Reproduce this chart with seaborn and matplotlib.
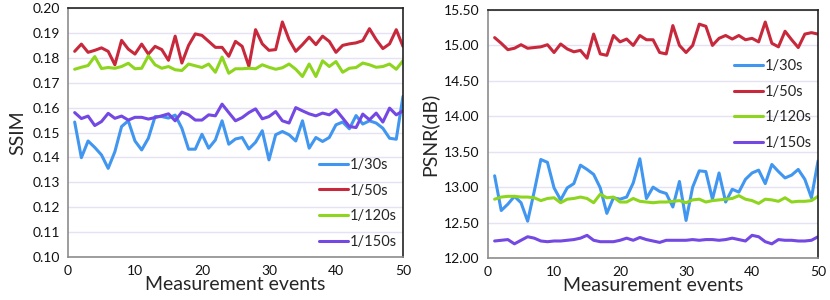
import numpy as np
import pandas as pd
import matplotlib
matplotlib.use("Agg")
import matplotlib.pyplot as plt
import seaborn as sns

# Measurement events 1..50
events = list(range(1, 51))
labels = ["1/30s", "1/50s", "1/120s", "1/150s"]

# SSIM values per shutter speed
ssim_30 = [0.1542, 0.1399, 0.1466, 0.1440, 0.1410, 0.1356, 0.1423, 0.1524, 0.1547, 0.1466,
           0.1430, 0.1477, 0.1564, 0.1564, 0.1558, 0.1570, 0.1517, 0.1433, 0.1433, 0.1493,
           0.1437, 0.1470, 0.1547, 0.1453, 0.1474, 0.1480, 0.1434, 0.1461, 0.1507, 0.1390,
           0.1491, 0.1504, 0.1491, 0.1466, 0.1547, 0.1437, 0.1480, 0.1464, 0.1480, 0.1531,
           0.1542, 0.1515, 0.1568, 0.1534, 0.1547, 0.1538, 0.1517, 0.1477, 0.1473, 0.1645]
ssim_50 = [0.1826, 0.1855, 0.1822, 0.1830, 0.1840, 0.1826, 0.1772, 0.1870, 0.1835, 0.1815,
           0.1855, 0.1815, 0.1846, 0.1833, 0.1790, 0.1887, 0.1779, 0.1850, 0.1896, 0.1890,
           0.1866, 0.1842, 0.1842, 0.1806, 0.1866, 0.1846, 0.1766, 0.1913, 0.1856, 0.1830,
           0.1833, 0.1944, 0.1873, 0.1826, 0.1853, 0.1883, 0.1853, 0.1887, 0.1866, 0.1822,
           0.1850, 0.1856, 0.1860, 0.1869, 0.1917, 0.1873, 0.1837, 0.1856, 0.1913, 0.1846]
ssim_120 = [0.1754, 0.1762, 0.1769, 0.1805, 0.1757, 0.1761, 0.1758, 0.1765, 0.1778, 0.1756,
            0.1758, 0.1808, 0.1772, 0.1758, 0.1765, 0.1752, 0.1749, 0.1775, 0.1768, 0.1761,
            0.1775, 0.1742, 0.1803, 0.1738, 0.1756, 0.1756, 0.1758, 0.1756, 0.1772, 0.1762,
            0.1754, 0.1760, 0.1775, 0.1754, 0.1725, 0.1775, 0.1725, 0.1788, 0.1765, 0.1785,
            0.1742, 0.1758, 0.1761, 0.1779, 0.1772, 0.1762, 0.1765, 0.1775, 0.1754, 0.1788]
ssim_150 = [0.1580, 0.1556, 0.1566, 0.1528, 0.1544, 0.1577, 0.1557, 0.1566, 0.1550, 0.1561,
            0.1561, 0.1554, 0.1560, 0.1567, 0.1575, 0.1547, 0.1582, 0.1571, 0.1550, 0.1550,
            0.1571, 0.1567, 0.1614, 0.1580, 0.1547, 0.1560, 0.1580, 0.1595, 0.1555, 0.1564,
            0.1584, 0.1547, 0.1538, 0.1600, 0.1587, 0.1575, 0.1567, 0.1578, 0.1571, 0.1591,
            0.1558, 0.1524, 0.1520, 0.1574, 0.1551, 0.1578, 0.1542, 0.1598, 0.1571, 0.1587]

# PSNR values (dB) per shutter speed
psnr_30 = [13.16, 12.67, 12.76, 12.87, 12.78, 12.52, 12.94, 13.39, 13.35, 12.99,
           12.82, 12.99, 13.05, 13.31, 13.25, 13.18, 12.99, 12.63, 12.85, 12.83,
           12.86, 13.06, 13.40, 12.84, 13.00, 12.94, 12.91, 12.72, 13.08, 12.53,
           13.00, 13.23, 13.22, 12.83, 13.20, 12.79, 12.97, 12.93, 13.11, 13.20,
           13.24, 13.05, 13.32, 13.22, 13.13, 13.17, 13.25, 13.11, 12.85, 13.37]
psnr_50 = [15.11, 15.03, 14.94, 14.96, 15.01, 14.96, 14.97, 14.98, 15.01, 14.90,
           15.02, 14.95, 14.91, 14.93, 14.82, 15.16, 14.88, 14.86, 15.14, 15.05,
           15.09, 15.00, 15.14, 15.08, 15.08, 14.90, 14.88, 15.28, 15.00, 14.90,
           15.00, 15.30, 15.27, 15.00, 15.10, 15.14, 15.09, 15.14, 15.08, 15.10,
           15.05, 15.33, 15.03, 14.98, 15.20, 15.08, 14.97, 15.16, 15.18, 15.16]
psnr_120 = [12.83, 12.86, 12.87, 12.87, 12.86, 12.86, 12.85, 12.81, 12.84, 12.85,
            12.78, 12.83, 12.84, 12.86, 12.84, 12.78, 12.90, 12.85, 12.86, 12.79,
            12.79, 12.84, 12.80, 12.79, 12.78, 12.79, 12.79, 12.80, 12.81, 12.78,
            12.82, 12.83, 12.79, 12.81, 12.82, 12.83, 12.84, 12.88, 12.83, 12.81,
            12.77, 12.83, 12.82, 12.80, 12.85, 12.79, 12.80, 12.80, 12.81, 12.87]
psnr_150 = [12.24, 12.25, 12.26, 12.20, 12.25, 12.30, 12.28, 12.24, 12.23, 12.24,
            12.24, 12.25, 12.26, 12.28, 12.32, 12.25, 12.23, 12.23, 12.23, 12.25,
            12.28, 12.25, 12.29, 12.26, 12.24, 12.22, 12.25, 12.25, 12.25, 12.25,
            12.26, 12.25, 12.26, 12.26, 12.25, 12.26, 12.28, 12.26, 12.24, 12.32,
            12.30, 12.23, 12.20, 12.26, 12.25, 12.25, 12.24, 12.24, 12.25, 12.30]


def to_long(series):
    frames = []
    for lab, vals in zip(labels, series):
        frames.append(pd.DataFrame({"event": events, "value": vals, "speed": lab}))
    return pd.concat(frames, ignore_index=True)


ssim_df = to_long([ssim_30, ssim_50, ssim_120, ssim_150])
psnr_df = to_long([psnr_30, psnr_50, psnr_120, psnr_150])

palette = {"1/30s": "#4196F0", "1/50s": "#C8283C", "1/120s": "#8DD51E", "1/150s": "#7448E2"}

sns.set_style("white")
plt.rcParams["font.family"] = ["Lato", "DejaVu Sans"]

fig = plt.figure(figsize=(8.3, 3.0), dpi=100)
ax1 = fig.add_axes([0.0819, 0.1433, 0.4036, 0.830])
ax2 = fig.add_axes([0.588, 0.140, 0.3976, 0.8267])


def style_axes(ax, ylim, yticks, ylabel, fmt):
    ax.set_xlim(0, 50)
    ax.set_ylim(*ylim)
    ax.set_xticks([0, 10, 20, 30, 40, 50])
    ax.set_yticks(yticks)
    ax.set_yticklabels([fmt.format(t) for t in yticks])
    ax.yaxis.grid(True, color="#E4E2F4", linewidth=1.0)
    ax.set_axisbelow(True)
    ax.spines["left"].set_color("#8C8C8C")
    ax.spines["bottom"].set_color("#8C8C8C")
    ax.spines["top"].set_color("#222222")
    ax.spines["right"].set_color("#222222")
    for s in ax.spines.values():
        s.set_linewidth(1.2)
    ax.tick_params(axis="both", direction="out", length=4, width=1, color="#8C8C8C",
                   labelsize=10, pad=2, labelcolor="#111111")
    ax.set_xlabel("Measurement events", fontsize=14, labelpad=-1)
    ax.set_ylabel(ylabel, fontsize=14, labelpad=4)


sns.lineplot(data=ssim_df, x="event", y="value", hue="speed", palette=palette,
             linewidth=2.2, ax=ax1)
style_axes(ax1, (0.10, 0.20), np.round(np.arange(0.10, 0.2001, 0.01), 2), "SSIM", "{:.2f}")
ax1.legend(loc="lower right", bbox_to_anchor=(1.02, -0.02), frameon=False, fontsize=10.5,
           handlelength=2.0, handletextpad=0.1, labelspacing=0.8)

sns.lineplot(data=psnr_df, x="event", y="value", hue="speed", palette=palette,
             linewidth=2.2, ax=ax2)
style_axes(ax2, (12.0, 15.5), np.arange(12.0, 15.51, 0.5), "PSNR(dB)", "{:.2f}")
ax2.legend(loc="upper right", bbox_to_anchor=(1.02, 0.855), frameon=False, fontsize=10.5,
           handlelength=2.0, handletextpad=0.1, labelspacing=0.8)

fig.savefig("out.png", dpi=100)
